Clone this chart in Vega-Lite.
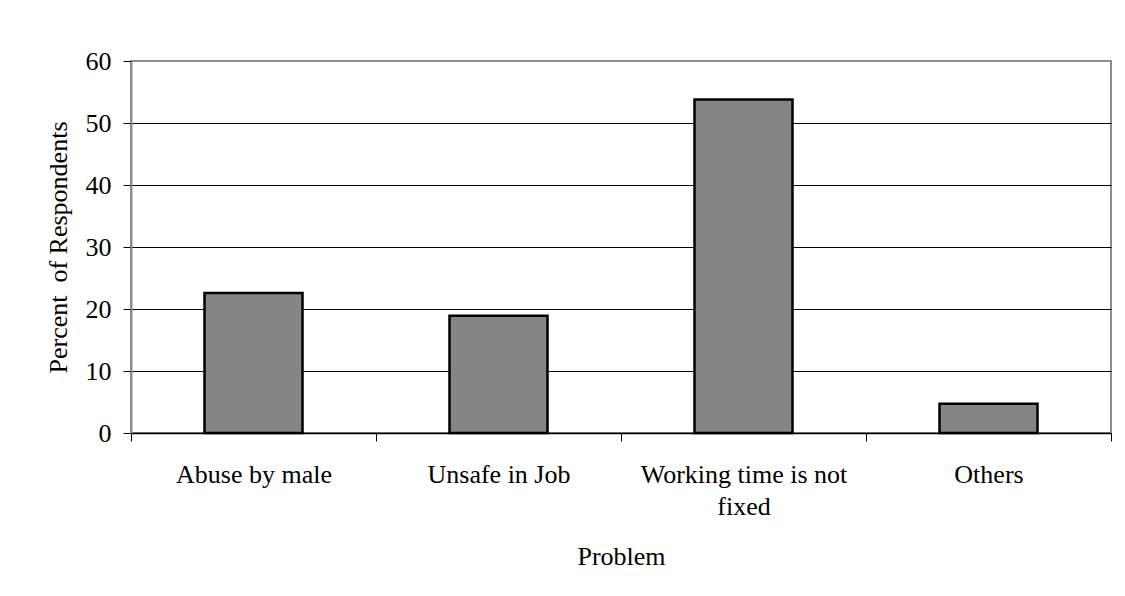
{
  "$schema": "https://vega.github.io/schema/vega-lite/v6.json",
  "width": 980,
  "height": 372,
  "autosize": {"type": "none"},
  "padding": {"left": 131, "top": 61, "right": 14, "bottom": 163},
  "background": "white",
  "config": {
    "font": "Liberation Serif",
    "view": {"stroke": "#8c8c8c", "strokeWidth": 2}
  },
  "data": {
    "values": [
      {"problem": "Abuse by male", "percent": 22.6},
      {"problem": "Unsafe in Job", "percent": 18.9},
      {"problem": "Working time is not fixed", "percent": 53.8},
      {"problem": "Others", "percent": 4.7}
    ]
  },
  "mark": {"type": "bar", "fill": "#858585", "stroke": "black", "strokeWidth": 2.5, "width": {"band": 0.4}},
  "encoding": {
    "x": {
      "field": "problem",
      "type": "nominal",
      "sort": null,
      "scale": {"paddingInner": 0, "paddingOuter": 0},
      "title": "Problem",
      "axis": {
        "labelAngle": 0,
        "labelFontSize": 26,
        "labelColor": "black",
        "labelPadding": 20,
        "labelLineHeight": 32,
        "labelLimit": 0,
        "labelExpr": "datum.value == 'Working time is not fixed' ? ['Working time is not', 'fixed'] : datum.value",
        "tickBand": "extent",
        "tickSize": 8,
        "tickColor": "black",
        "domainColor": "black",
        "domainWidth": 1.5,
        "titleFontSize": 26,
        "titleFontWeight": "normal",
        "titleColor": "black",
        "titleY": 123,
        "titleBaseline": "middle"
      }
    },
    "y": {
      "field": "percent",
      "type": "quantitative",
      "scale": {"domain": [0, 60]},
      "title": "Percent\u00a0 of Respondents",
      "axis": {
        "values": [0, 10, 20, 30, 40, 50, 60],
        "labelFontSize": 26,
        "labelColor": "black",
        "labelPadding": 12,
        "tickSize": 8,
        "tickColor": "black",
        "domainColor": "#8c8c8c",
        "domainWidth": 2,
        "grid": true,
        "gridColor": {"condition": {"test": "datum.value === 60", "value": "#8c8c8c"}, "value": "black"},
        "gridWidth": 1,
        "gridOpacity": 1,
        "titleFontSize": 26,
        "titleFontWeight": "normal",
        "titleColor": "black",
        "titleX": -65,
        "titleBaseline": "alphabetic"
      }
    }
  }
}
